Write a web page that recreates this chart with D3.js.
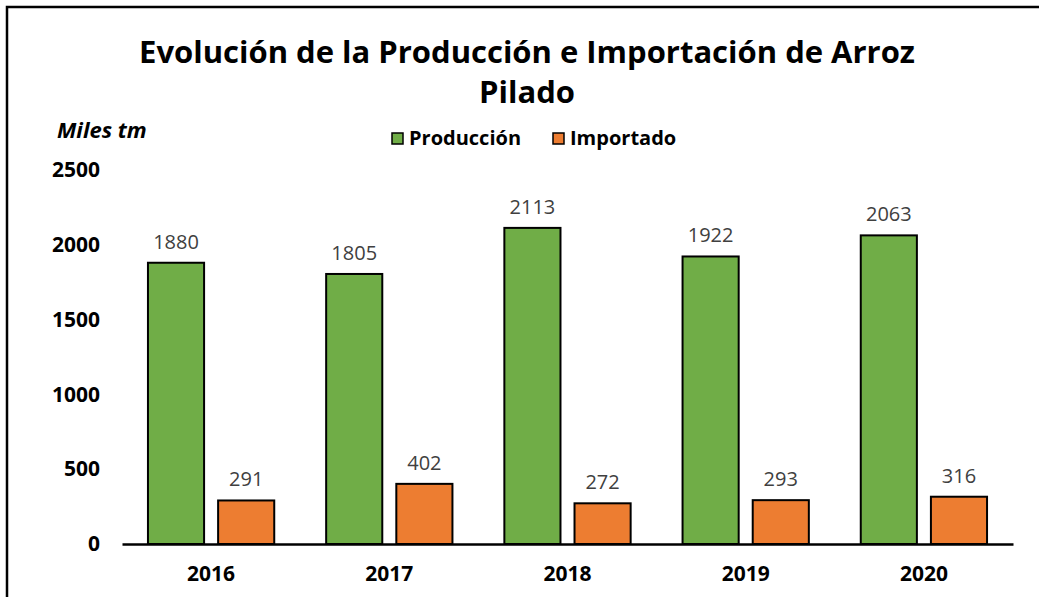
<!DOCTYPE html>
<html lang="es">
<head>
<meta charset="utf-8">
<title>Evolución de la Producción e Importación de Arroz Pilado</title>
<script src="https://cdn.jsdelivr.net/npm/d3@7"></script>
<style>
  body { margin: 0; background: #fff; }
  text { font-family: "Open Sans", sans-serif; }
</style>
</head>
<body>
<script>
// data
var years = ["2016", "2017", "2018", "2019", "2020"];
var seriesNames = ["Producción", "Importado"];
var produccion = [1880, 1805, 2113, 1922, 2063];
var importado = [291, 402, 272, 293, 316];
var yTicks = [0, 500, 1000, 1500, 2000, 2500];
var colors = ["#70AD47", "#ED7D31"];

var w = 1039, h = 597;
var svg = d3.select("body").append("svg").attr("width", w).attr("height", h);

// frame (only top and left edges are in view)
svg.append("path").attr("d", "M7,600 V7 H1040")
  .attr("fill", "none").attr("stroke", "#000").attr("stroke-width", 2.5);

// scales
var x0 = d3.scaleBand().domain(years).range([122, 1013]).padding(0);
var x1 = d3.scaleBand().domain(seriesNames).range([0, x0.bandwidth()])
  .paddingInner(0.2).paddingOuter(0.37);
var y = d3.scaleLinear().domain([0, 2500]).range([544, 170]);

// title
var title = svg.append("text").attr("text-anchor", "middle")
  .attr("font-weight", "bold").attr("font-size", 31).attr("fill", "#000");
title.append("tspan").attr("x", 527).attr("y", 63).text("Evolución de la Producción e Importación de Arroz");
title.append("tspan").attr("x", 527).attr("y", 103).text("Pilado");

// unit label
svg.append("text").attr("x", 57).attr("y", 138)
  .attr("font-weight", "bold").attr("font-style", "italic").attr("font-size", 22)
  .text("Miles tm");

// legend
var legendX = [392, 553];
seriesNames.forEach(function (s, i) {
  svg.append("rect").attr("x", legendX[i]).attr("y", 133).attr("width", 11).attr("height", 11)
    .attr("fill", colors[i]).attr("stroke", "#000").attr("stroke-width", 1.5);
  svg.append("text").attr("x", legendX[i] + 17).attr("y", 145)
    .attr("font-weight", "bold").attr("font-size", 20).text(s);
});

// y axis labels
var yAxis = d3.axisLeft(y).tickValues(yTicks).tickFormat(d3.format("d")).tickSize(0).tickPadding(0);
var gy = svg.append("g").attr("transform", "translate(100,0)").call(yAxis);
gy.select(".domain").remove();
gy.selectAll("text").attr("font-family", "'Open Sans', sans-serif").attr("font-weight", "bold")
  .attr("font-size", 21).attr("fill", "#000");

// bars
var groups = svg.selectAll("g.year").data(years).enter().append("g")
  .attr("class", "year")
  .attr("transform", function (d) { return "translate(" + x0(d) + ",0)"; });

var rows = years.map(function (yr, i) {
  return [{ s: seriesNames[0], v: produccion[i], c: colors[0] },
          { s: seriesNames[1], v: importado[i], c: colors[1] }];
});

groups.each(function (d, i) {
  var g = d3.select(this);
  g.selectAll("rect").data(rows[i]).enter().append("rect")
    .attr("x", function (r) { return x1(r.s); })
    .attr("y", function (r) { return y(r.v); })
    .attr("width", x1.bandwidth())
    .attr("height", function (r) { return y(0) - y(r.v); })
    .attr("fill", function (r) { return r.c; })
    .attr("stroke", "#000").attr("stroke-width", 2);
  g.selectAll("text.val").data(rows[i]).enter().append("text").attr("class", "val")
    .attr("x", function (r) { return x1(r.s) + x1.bandwidth() / 2; })
    .attr("y", function (r) { return y(r.v) - 14; })
    .attr("text-anchor", "middle").attr("font-size", 20).attr("fill", "#404040")
    .text(function (r) { return r.v; });
});

// x axis
var xAxis = d3.axisBottom(x0).tickSize(0).tickPadding(22);
var gx = svg.append("g").attr("transform", "translate(0,544)").call(xAxis);
gx.select(".domain").attr("stroke", "#000").attr("stroke-width", 2.5);
gx.selectAll("text").attr("font-family", "'Open Sans', sans-serif").attr("font-weight", "bold")
  .attr("font-size", 21).attr("fill", "#000");
</script>
</body>
</html>
